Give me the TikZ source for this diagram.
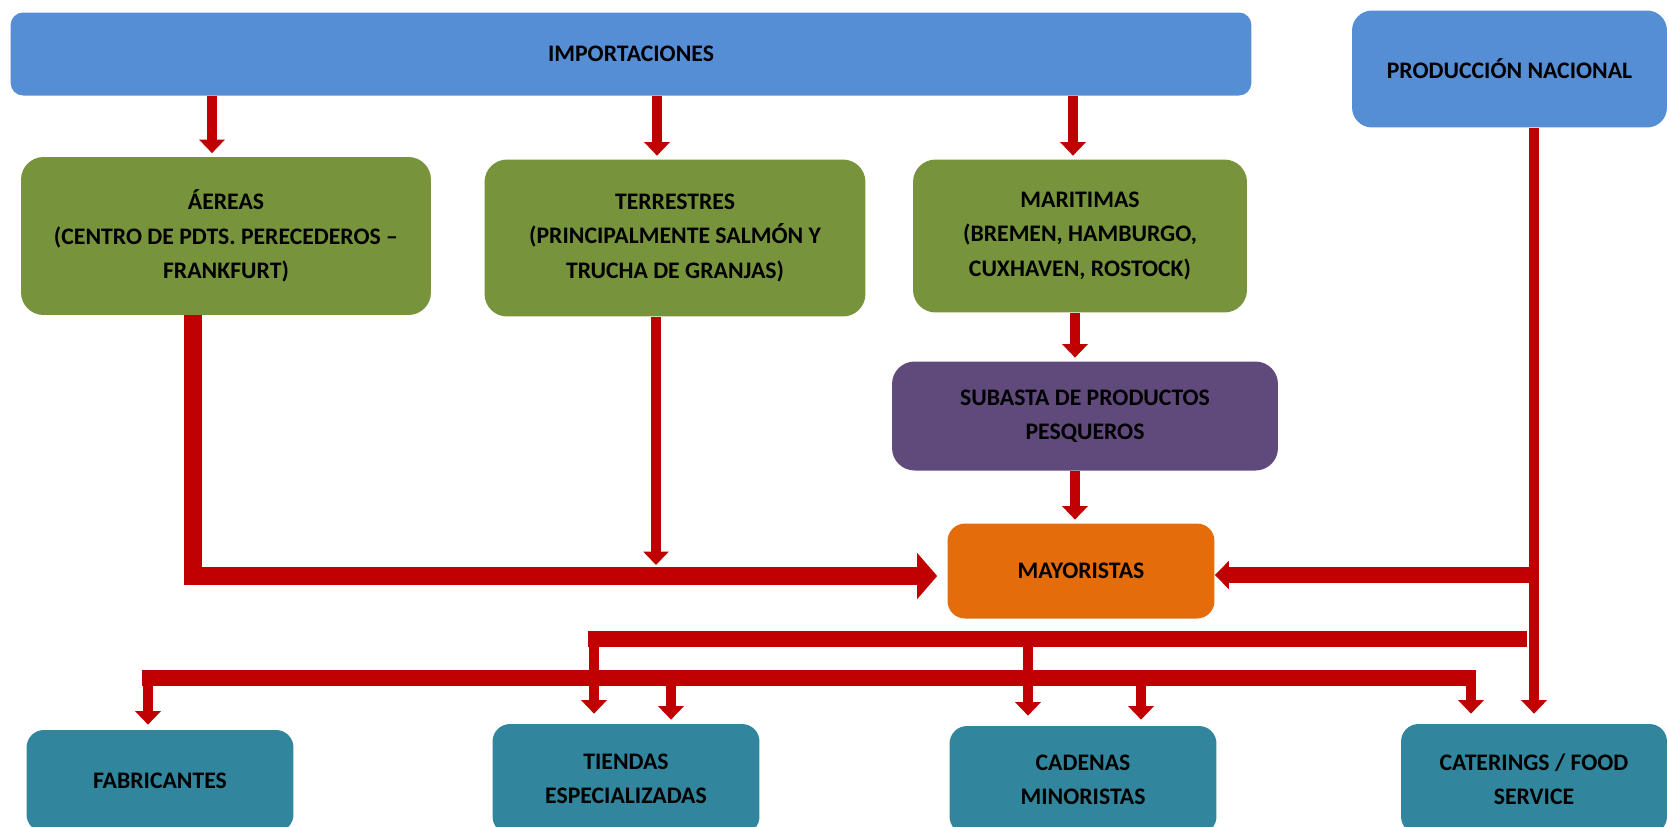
\documentclass[tikz,border=0pt]{standalone}
\usepackage{fontspec}
\setmainfont{Carlito}
\usetikzlibrary{arrows.meta, positioning}
\definecolor{ImpBlue}{HTML}{558ED5}
\definecolor{ViaGreen}{HTML}{77933C}
\definecolor{SubPurple}{HTML}{604A7B}
\definecolor{MayOrange}{HTML}{E46C0A}
\definecolor{DestTeal}{HTML}{31859C}
\definecolor{FlowRed}{HTML}{C00000}

\begin{document}
\begin{tikzpicture}[x=0.02cm, y=-0.02cm, box/.style={rectangle, rounded corners=0.45cm, inner sep=4pt, align=center, font=\fontsize{13.5}{19.5}\selectfont\bfseries}, flow/.style={draw=FlowRed, line width=0.2cm, -{Triangle[width=0.5cm, length=0.27cm]}}, bigflow/.style={draw=FlowRed, line width=0.35cm, -{Triangle[width=0.9cm, length=0.4cm]}}, midflow/.style={draw=FlowRed, line width=0.32cm, -{Triangle[width=0.55cm, length=0.28cm]}}, bus/.style={draw=FlowRed, line width=0.31cm}]

        \useasboundingbox (0,0) rectangle (1669,826);
        \clip (0,0) rectangle (1669,826);

        \node[box, fill=ImpBlue, rounded corners=0.25cm, minimum width=24.82cm, minimum height=1.66cm] (imp) at (631,54) {IMPORTACIONES};

        \node[box, fill=ImpBlue, rounded corners=0.4cm, minimum width=6.3cm, minimum height=2.34cm] (prod) at (1509.5,69) {PRODUCCIÓN NACIONAL};

        \node[box, fill=ViaGreen, minimum width=8.2cm, minimum height=3.16cm] (aereas) at (226,236) {ÁEREAS\\(CENTRO DE PDTS. PERECEDEROS –\\FRANKFURT)};

        \node[box, fill=ViaGreen, minimum width=7.62cm, minimum height=3.14cm] (terr) at (675,238) {TERRESTRES\\(PRINCIPALMENTE SALMÓN Y\\TRUCHA DE GRANJAS)};

        \node[box, fill=ViaGreen, minimum width=6.68cm, minimum height=3.06cm] (mar) at (1080,236) {MARITIMAS\\(BREMEN, HAMBURGO,\\CUXHAVEN, ROSTOCK)};

        \node[box, fill=SubPurple, minimum width=7.72cm, minimum height=2.18cm] (sub) at (1085,416) {SUBASTA DE PRODUCTOS\\PESQUEROS};

        \node[box, fill=MayOrange, rounded corners=0.35cm, minimum width=5.34cm, minimum height=1.9cm] (may) at (1081,571) {MAYORISTAS};

        \node[box, fill=DestTeal, rounded corners=0.35cm, minimum width=5.34cm, minimum height=2.04cm] (fab) at (160,781) {FABRICANTES};

        \node[box, fill=DestTeal, rounded corners=0.35cm, minimum width=5.34cm, minimum height=2.2cm] (tie) at (626,779) {TIENDAS\\ESPECIALIZADAS};

        \node[box, fill=DestTeal, rounded corners=0.35cm, minimum width=5.34cm, minimum height=2.16cm] (cad) at (1083,780) {CADENAS\\MINORISTAS};

        \node[box, fill=DestTeal, rounded corners=0.35cm, minimum width=5.32cm, minimum height=2.2cm] (cat) at (1534,779) {CATERINGS / FOOD\\SERVICE};

        \coordinate (xAer) at (212,0);
        \coordinate (xTer) at (657,0);
        \coordinate (xMar) at (1073,0);
        \coordinate (xSub) at (1075,0);
        \coordinate (xAerBus) at (193,0);
        \coordinate (xTerBus) at (656,0);
        \coordinate (terTip) at (656,565);
        \coordinate (busOneW) at (588,639);
        \coordinate (busOneE) at (1527,639);
        \coordinate (busTwoW) at (142,678);
        \coordinate (busTwoE) at (1476,678);
        \coordinate (xFab) at (148,0);
        \coordinate (xTieA) at (594,0);
        \coordinate (xTieB) at (671,0);
        \coordinate (xCadA) at (1028,0);
        \coordinate (xCadB) at (1141,0);
        \coordinate (xCat) at (1471,0);

        \draw[flow, shorten >=2pt] (imp.south -| xAer) -- (aereas.north -| xAer);
        \draw[flow, shorten >=2pt] (imp.south -| xTer) -- (terr.north -| xTer);
        \draw[flow, shorten >=2pt] (imp.south -| xMar) -- (mar.north -| xMar);
        \draw[flow, shorten >=2pt] (mar.south -| xSub) -- (sub.north -| xSub);
        \draw[flow, shorten >=2pt] (sub.south -| xSub) -- (may.north -| xSub);

        \draw[bigflow, shorten >=0.2cm] (aereas.south -| xAerBus) |- ([yshift=-0.1cm]may.west);
        \draw[flow] (terr.south -| xTerBus) -- (terTip);

        \draw[flow, shorten >=0.2cm] (prod.south -| cat.north) -- (cat.north);
        \draw[midflow] ([yshift=-0.08cm]may.east -| cat.north) -- ([yshift=-0.08cm]may.east);

        \draw[bus] (busOneW) -- (busOneE);
        \draw[flow, shorten >=0.2cm] (busOneW -| xTieA) -- (tie.north -| xTieA);
        \draw[flow, shorten >=0.2cm] (busOneW -| xCadA) -- (cad.north -| xCadA);

        \draw[bus] (busTwoW) -- (busTwoE);
        \draw[flow, shorten >=0.1cm] (busTwoW -| xFab) -- (fab.north -| xFab);
        \draw[flow, shorten >=0.08cm] (busTwoW -| xTieB) -- (tie.north -| xTieB);
        \draw[flow, shorten >=0.12cm] (busTwoW -| xCadB) -- (cad.north -| xCadB);
        \draw[flow, shorten >=0.2cm] (busTwoW -| xCat) -- (cat.north -| xCat);

    \end{tikzpicture}
\end{document}
